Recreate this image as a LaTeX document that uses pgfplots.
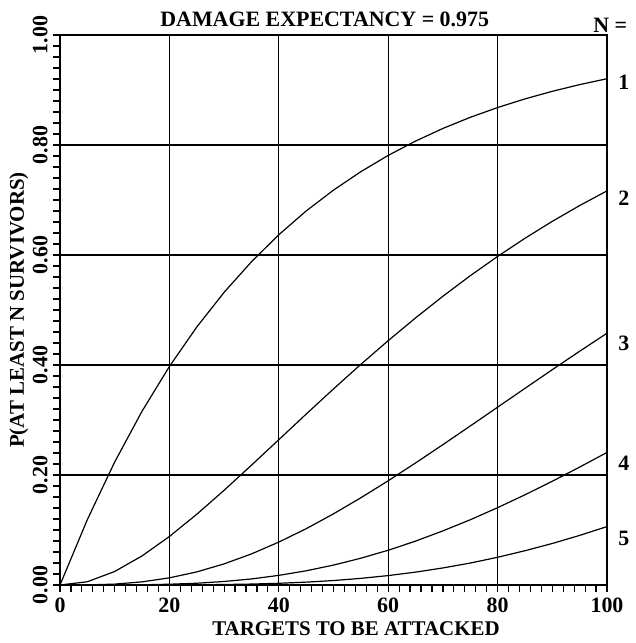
\documentclass[border=0pt]{standalone}
\usepackage{fontspec}
\setmainfont{Liberation Serif}
\usepackage{pgfplots}
\usepackage{pgfplotstable}
\pgfplotsset{compat=1.18}

% P(at least N survivors)
\pgfplotstableread{
x    n1     n2     n3     n4     n5
0    0      0      0      0      0
5    0.1189 0.0059 0.0002 0.0000 0.0000
10   0.2237 0.0246 0.0016 0.0001 0.0000
15   0.3160 0.0529 0.0057 0.0004 0.0000
20   0.3973 0.0882 0.0130 0.0014 0.0001
25   0.4690 0.1286 0.0238 0.0032 0.0003
30   0.5321 0.1722 0.0384 0.0064 0.0009
35   0.5877 0.2178 0.0565 0.0110 0.0017
40   0.6368 0.2642 0.0780 0.0175 0.0031
45   0.6800 0.3107 0.1023 0.0258 0.0052
50   0.7180 0.3565 0.1294 0.0362 0.0081
55   0.7515 0.4012 0.1586 0.0487 0.0121
60   0.7811 0.4443 0.1895 0.0632 0.0171
65   0.8071 0.4856 0.2219 0.0798 0.0234
70   0.8301 0.5250 0.2552 0.0984 0.0310
75   0.8503 0.5623 0.2891 0.1186 0.0399
80   0.8681 0.5974 0.3233 0.1406 0.0504
85   0.8838 0.6304 0.3575 0.1640 0.0623
90   0.8976 0.6612 0.3915 0.1886 0.0755
95   0.9098 0.6899 0.4250 0.2144 0.0902
100  0.9205 0.7166 0.4578 0.2410 0.1062
}\surv

\begin{document}
\begin{tikzpicture}
\useasboundingbox (-30bp,-29bp) rectangle (288bp,292.5bp);
\begin{axis}[
  scale only axis, width=273.5bp, height=275bp,
  xmin=0, xmax=100, ymin=0, ymax=1,
  xtick={0,20,40,60,80,100}, ytick={0,0.2,0.4,0.6,0.8,1},
  minor x tick num=9, minor y tick num=9,
  tick pos=left, tick align=outside,
  major tick length=3.5bp, minor tick length=3.5bp,
  tick style={black, line width=0.6bp},
  grid=major, major grid style={black, line width=0.6bp},
  axis line style={line width=1bp},
  clip=false,
  /pgf/number format/assume math mode=true,
  tick label style={font=\fontsize{11}{13}\selectfont\bfseries, inner sep=0pt},
  y tick label style={/pgf/number format/fixed, /pgf/number format/fixed zerofill,
    /pgf/number format/precision=2, rotate=90, anchor=south, yshift=2.5bp},
  x tick label style={yshift=-3bp},
  label style={font=\fontsize{10.5}{12}\selectfont\bfseries},
  xlabel={TARGETS TO BE ATTACKED},
  xlabel style={at={(axis description cs:0.541,0)}, anchor=base, yshift=-25bp},
  ylabel={P(AT LEAST N SURVIVORS)},
  ylabel style={at={(axis description cs:0,0.5)}, anchor=base, yshift=18bp},
]
\addplot[black, line width=0.6bp] table[x=x, y=n1] {\surv};
\addplot[black, line width=0.6bp] table[x=x, y=n2] {\surv};
\addplot[black, line width=0.6bp] table[x=x, y=n3] {\surv};
\addplot[black, line width=0.6bp] table[x=x, y=n4] {\surv};
\addplot[black, line width=0.6bp] table[x=x, y=n5] {\surv};

\begin{scope}[every node/.style={font=\fontsize{11}{13}\selectfont\bfseries, inner sep=0pt, anchor=west, xshift=5.5bp}]
\node[yshift=-2bp] at (axis cs:100,0.9205) {1};
\node[yshift=-3.5bp] at (axis cs:100,0.7166) {2};
\node[yshift=-5bp] at (axis cs:100,0.4578) {3};
\node[yshift=-5.5bp] at (axis cs:100,0.2410) {4};
\node[yshift=-6bp] at (axis cs:100,0.1062) {5};
\end{scope}
\node[font=\fontsize{11}{13}\selectfont\bfseries, inner sep=0pt, anchor=base]
  at (axis description cs:0.484,1) [yshift=4bp] {DAMAGE EXPECTANCY = 0.975};
\node[font=\fontsize{11}{13}\selectfont\bfseries, inner sep=0pt, anchor=base west]
  at (axis description cs:1,1) [xshift=-7bp, yshift=1bp] {N =};
\end{axis}
\end{tikzpicture}
\end{document}
